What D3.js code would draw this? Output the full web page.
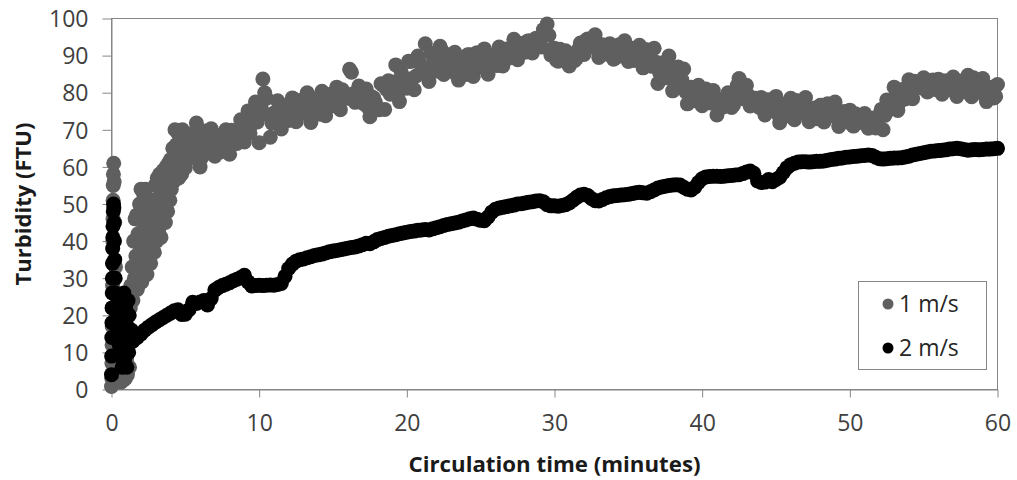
<!DOCTYPE html>
<html>
<head>
<meta charset="utf-8">
<script src="https://cdn.jsdelivr.net/npm/d3@7"></script>
<style>
  html, body { margin: 0; padding: 0; background: #fff; }
  svg { display: block; font-family: "Open Sans", "Liberation Sans", sans-serif; }
</style>
</head>
<body>
<svg id="chart" width="1017" height="480"></svg>
<script>
// Axis ticks
const axisMinutes = [0, 10, 20, 30, 40, 50, 60];
const axisFTU = [0, 10, 20, 30, 40, 50, 60, 70, 80, 90, 100];
const seriesNames = ["1 m/s", "2 m/s"];

// 1 m/s: first minutes of circulation (dense logging)
const slowStartMinutes = [0,0.02,0.03,0.04,0.05,0.06,0.07,0.08,0.09,0.1,0.11,0.12,0.13,
  0.15,0.18,0.22,0.27,0.33,0.4,0.48,0.56,0.64,0.72,0.8,0.88,0.95,
  1.02,1.08,1.13,1.18,1.22,1.27,1.31,1.35,1.4,1.45,
  1.5,1.55,1.6,1.65,1.7,1.75,1.8,1.85,1.9,1.95,2,2.05,2.1,2.15,2.2,2.25,2.3,2.35,2.4,2.45,
  2.5,2.55,2.6,2.65,2.7,2.75,2.8,2.85,2.9,2.95,3,3.05,3.1,3.15,3.2,3.25,3.3,3.35,3.4,3.45,
  3.5,3.55,3.6,3.65,3.7,3.75,3.8,3.85,3.9,3.95,4,4.05,4.1,4.15,4.2,4.25,4.3,4.35,4.4,4.45,
  4.5,4.55,4.6,4.65,4.7,4.75,4.8,4.85,4.9];
const slowStartFTU = [0.8,3,7,12,17,22,28,34,40,46,51,55,58,
  61,56,45,33,20,12,6,3,2,4,2.5,6,3,
  8,4,10,16,6,22,28,14,33,24,
  40,30,46,36,47,27,42,32,50,38,54,29,45,53,35,48,54,40,31,46,
  36,50,42,34,48,39,51,44,37,55,47,40,57,50,43,58,52,41,55,46,
  59,49,57,45,60,53,48,61,56,51,62,54,59,65,56,62,70,58,66,61,
  69,57,64,60,67,58,70,62,66];

// 2 m/s: first minutes of circulation
const fastStartMinutes = [0,0.01,0.02,0.03,0.04,0.05,0.06,0.07,0.08,0.09,0.1,0.12,0.14,0.16,0.18,0.2,
  0.22,0.25,0.28,0.31,0.34,0.37,0.4,
  0.44,0.48,0.52,0.56,0.6,0.64,0.68,0.72,0.76,0.8,0.84,0.88,0.92,0.96,1,1.04,1.08,1.12,1.16,1.2,
  1.25,1.3,1.35,1.4,1.45,1.5,
  1.75,2,2.25,2.5,2.75,3,3.25,3.5,3.75,4,4.25,4.5,4.75];
const fastStartFTU = [4,9,14,18,22,26,30,34,38,41,44,48,50,49,45,40,
  35,30,26,22,17,14,20,
  24,18,12,22,9,16,24,6,19,13,26,8,18,22,12,6,17,24,10,20,
  15,13,16,14,13,13.5,
  14,15,16,16.8,17.5,18.2,18.8,19.4,20,20.6,21.2,21.5,20.2];

// Regular logging from minute 5 to 60
const sampleMinutes = [
  5,5.25,5.5,5.75, 6,6.25,6.5,6.75, 7,7.25,7.5,7.75, 8,8.25,8.5,8.75, 9,9.25,9.5,9.75,
  10,10.25,10.5,10.75, 11,11.25,11.5,11.75, 12,12.25,12.5,12.75, 13,13.25,13.5,13.75, 14,14.25,14.5,14.75,
  15,15.25,15.5,15.75, 16,16.25,16.5,16.75, 17,17.25,17.5,17.75, 18,18.25,18.5,18.75, 19,19.25,19.5,19.75,
  20,20.25,20.5,20.75, 21,21.25,21.5,21.75, 22,22.25,22.5,22.75, 23,23.25,23.5,23.75, 24,24.25,24.5,24.75,
  25,25.25,25.5,25.75, 26,26.25,26.5,26.75, 27,27.25,27.5,27.75, 28,28.25,28.5,28.75, 29,29.25,29.5,29.75,
  30,30.25,30.5,30.75, 31,31.25,31.5,31.75, 32,32.25,32.5,32.75, 33,33.25,33.5,33.75, 34,34.25,34.5,34.75,
  35,35.25,35.5,35.75, 36,36.25,36.5,36.75, 37,37.25,37.5,37.75, 38,38.25,38.5,38.75, 39,39.25,39.5,39.75,
  40,40.25,40.5,40.75, 41,41.25,41.5,41.75, 42,42.25,42.5,42.75, 43,43.25,43.5,43.75, 44,44.25,44.5,44.75,
  45,45.25,45.5,45.75, 46,46.25,46.5,46.75, 47,47.25,47.5,47.75, 48,48.25,48.5,48.75, 49,49.25,49.5,49.75,
  50,50.25,50.5,50.75, 51,51.25,51.5,51.75, 52,52.25,52.5,52.75, 53,53.25,53.5,53.75, 54,54.25,54.5,54.75,
  55,55.25,55.5,55.75, 56,56.25,56.5,56.75, 57,57.25,57.5,57.75, 58,58.25,58.5,58.75, 59,59.25,59.5,59.75,
  60];

// Turbidity at 1 m/s (FTU)
const slowFTU = [
  59.8,68.9,65.3,71.8, 60.0,67.7,64.0,70.3, 62.9,68.4,66.1,70.0, 63.4,68.2,66.3,72.7, 66.7,75.1,71.5,77.5,
  66.5,83.7,78.5,68.0, 74.5,77.8,70.2,75.0, 72.5,78.6,72.2,77.9, 75.5,80.0,72.0,77.6, 74.9,80.4,73.8,79.5,
  77.4,81.5,75.4,80.0, 78.5,85.5,77.4,81.8, 78.2,81.0,73.5,78.6, 75.7,82.4,75.5,83.2, 81.4,87.5,77.6,84.2,
  81.2,88.4,80.8,89.9, 87.2,93.2,83.0,90.0, 86.7,92.5,84.9,90.2, 87.3,90.9,83.4,88.0, 84.9,90.2,84.4,90.8,
  88.0,91.8,85.0,89.6, 87.8,92.3,87.2,91.8, 90.1,94.4,88.9,92.4, 90.9,94.0,90.7,94.7, 93.0,97.0,98.5,90.2,
  92.0,88.5,90.2,91.3, 87.2,89.8,89.3,93.4, 90.3,94.5,93.1,95.6, 89.5,92.9,90.4,93.2, 89.0,92.0,90.7,94.0,
  88.4,92.0,88.9,92.8, 86.7,91.6,88.2,92.0, 82.5,88.0,84.0,89.9, 80.5,86.7,82.5,86.4, 77.0,81.5,78.0,82.0,
  76.5,81.0,78.0,80.6, 74.0,78.0,76.3,80.0, 76.0,80.2,83.8,78.4, 82.0,76.4,78.5,76.5, 78.7,74.0,78.1,75.7,
  79.0,71.9,76.1,73.8, 78.5,72.7,77.3,75.2, 78.7,72.2,75.6,73.0, 76.6,72.1,77.0,74.3, 77.5,70.9,74.3,72.4,
  75.3,71.0,73.8,72.5, 74.4,70.4,72.5,70.5, 74.0,70.0,78.0,76.5, 81.5,75.2,80.0,78.3, 83.5,78.4,82.5,81.6,
  84.0,80.2,83.0,80.9, 83.6,79.6,83.2,81.2, 84.2,79.0,82.6,80.5, 84.7,78.9,83.2,81.0, 83.8,77.6,80.8,78.6,
  82.2];

// Intermediate 1 m/s readings, logged between the regular samples
const fillMinutes = [
  5.125,5.375,5.625,5.875, 6.125,6.375,6.625,6.875, 7.125,7.375,7.625,7.875, 8.125,8.375,8.625,8.875,
  9.125,9.375,9.625,9.875, 10.125,10.375,10.625,10.875, 11.125,11.375,11.625,11.875, 12.125,12.375,12.625,12.875,
  13.125,13.375,13.625,13.875, 14.125,14.375,14.625,14.875, 15.125,15.375,15.625,15.875, 16.125,16.375,16.625,16.875,
  17.125,17.375,17.625,17.875, 18.125,18.375,18.625,18.875, 19.125,19.375,19.625,19.875, 20.125,20.375,20.625,20.875,
  21.125,21.375,21.625,21.875, 22.125,22.375,22.625,22.875, 23.125,23.375,23.625,23.875, 24.125,24.375,24.625,24.875,
  25.125,25.375,25.625,25.875, 26.125,26.375,26.625,26.875, 27.125,27.375,27.625,27.875, 28.125,28.375,28.625,28.875,
  29.125,29.375,29.625,29.875, 30.125,30.375,30.625,30.875, 31.125,31.375,31.625,31.875, 32.125,32.375,32.625,32.875,
  33.125,33.375,33.625,33.875, 34.125,34.375,34.625,34.875, 35.125,35.375,35.625,35.875, 36.125,36.375,36.625,36.875,
  37.125,37.375,37.625,37.875, 38.125,38.375,38.625,38.875, 39.125,39.375,39.625,39.875, 40.125,40.375,40.625,40.875,
  41.125,41.375,41.625,41.875, 42.125,42.375,42.625,42.875, 43.125,43.375,43.625,43.875, 44.125,44.375,44.625,44.875,
  45.125,45.375,45.625,45.875, 46.125,46.375,46.625,46.875, 47.125,47.375,47.625,47.875, 48.125,48.375,48.625,48.875,
  49.125,49.375,49.625,49.875, 50.125,50.375,50.625,50.875, 51.125,51.375,51.625,51.875, 52.125,52.375,52.625,52.875,
  53.125,53.375,53.625,53.875, 54.125,54.375,54.625,54.875, 55.125,55.375,55.625,55.875, 56.125,56.375,56.625,56.875,
  57.125,57.375,57.625,57.875, 58.125,58.375,58.625,58.875, 59.125,59.375,59.625,59.875];
const slowFillFTU = [
  62.5,62.5,68.5,65.8, 62.6,69.7,67.0,64.9, 66.7,64.0,67.8,65.3, 69.9,67.3,68.1,71.3,
  69.2,69.1,74.5,72.1, 76.0,80.0,74.0,71.8, 74.1,71.5,75.6,73.0, 77.3,74.1,74.3,76.2,
  74.4,74.4,78.4,76.5, 74.2,79.7,78.0,76.4, 78.5,76.3,80.8,78.6, 86.3,79.7,79.1,79.5,
  76.9,76.0,78.9,77.4, 75.4,82.0,80.9,79.6, 82.9,79.2,85.5,81.6, 88.5,83.8,84.5,88.0,
  85.7,85.7,90.6,88.4, 85.8,91.3,89.0,86.6, 88.1,84.8,88.6,85.4, 90.2,86.7,86.9,88.8,
  86.9,86.8,90.0,88.8, 87.3,91.8,90.6,89.3, 91.3,89.6,93.3,91.1, 93.8,91.8,92.0,93.4,
  92.3,96.0,95.5,91.8, 88.8,91.7,89.8,88.5, 89.8,88.7,91.7,90.7, 94.1,92.3,92.3,93.1,
  91.2,90.5,92.3,90.9, 89.4,92.9,91.8,90.4, 91.7,88.7,91.6,88.3, 91.6,87.7,87.1,88.2,
  85.3,84.2,87.8,84.8, 81.1,86.9,83.5,80.3, 81.4,77.8,80.9,77.8, 80.8,77.6,77.2,77.9,
  76.2,76.1,78.8,77.8, 76.7,81.9,80.3,78.5, 79.3,77.0,78.5,76.0, 78.3,75.6,75.3,76.3,
  74.3,73.9,76.9,75.3, 73.4,77.9,76.3,74.5, 75.8,73.0,75.9,73.2, 76.6,73.8,73.8,75.0,
  73.2,72.6,74.9,73.2, 71.5,74.3,73.1,71.9, 72.8,71.1,73.2,71.2, 75.5,73.9,75.3,78.1,
  77.4,77.5,80.9,80.0, 78.7,83.1,82.0,81.3, 82.6,81.1,83.4,80.9, 83.3,80.9,80.8,82.1,
  80.9,80.7,83.2,81.8, 79.7,84.0,82.1,80.1, 81.2,78.5,81.5,79.0];

// Turbidity at 2 m/s (FTU)
const fastFTU = [
  20.3,21.5,23.5,23.2, 23.6,24.0,22.8,24.5, 26.8,27.5,28.0,28.4, 28.8,29.3,29.7,30.2, 30.8,29.0,27.9,28.0,
  28.1,28.0,28.1,28.2, 28.1,28.3,28.6,30.5, 32.6,33.8,34.6,35.0, 35.2,35.5,35.8,36.1, 36.3,36.5,36.8,37.1,
  37.3,37.5,37.7,37.9, 38.1,38.3,38.4,38.7, 39.0,39.4,39.3,39.8, 40.4,40.7,41.0,41.3, 41.5,41.7,42.0,42.2,
  42.4,42.6,42.7,42.9, 43.0,43.1,43.0,43.3, 43.6,43.9,44.2,44.5, 44.7,44.9,45.1,45.4, 45.7,46.0,46.2,45.9,
  45.6,45.5,46.5,47.8, 48.6,48.9,49.1,49.3, 49.5,49.7,50.0,50.1, 50.3,50.5,50.6,50.8, 50.9,50.6,49.8,49.5,
  49.5,49.4,49.6,49.8, 50.3,51.0,51.8,52.4, 52.6,52.3,51.5,50.9, 50.8,51.2,51.7,52.0, 52.2,52.3,52.4,52.5,
  52.6,52.8,53.0,53.2, 53.0,52.9,53.3,53.8, 54.3,54.6,54.8,55.0, 55.1,55.2,55.1,54.5, 54.0,53.8,54.5,55.8,
  56.8,57.3,57.4,57.5, 57.5,57.4,57.5,57.6, 57.7,57.8,57.9,58.2, 58.6,58.9,58.3,56.2, 55.8,55.9,56.6,56.0,
  56.6,57.2,58.5,59.8, 60.6,61.0,61.3,61.4, 61.4,61.3,61.4,61.5, 61.5,61.6,61.8,62.0, 62.1,62.3,62.4,62.6,
  62.7,62.8,62.9,63.0, 63.1,63.2,63.1,62.6, 62.2,62.1,62.2,62.3, 62.4,62.4,62.5,62.7, 62.9,63.2,63.4,63.6,
  63.8,64.0,64.2,64.3, 64.4,64.5,64.6,64.8, 64.9,65.0,64.9,64.7, 64.5,64.6,64.7,64.6, 64.7,64.8,64.8,64.9,
  65.0];

const seriesColors = ["#5f5f5f", "#000000"];
const axisColor = "#868686";
const labelColor = "#404040";
const fontFamily = '"Open Sans", "Liberation Sans", sans-serif';

const svg = d3.select("#chart");
svg.append("rect").attr("width", 1017).attr("height", 480).attr("fill", "#fff");

const plotLeft = 111.5, plotRight = 997.5, plotTop = 18.5, plotBottom = 389.5;
const x = d3.scaleLinear().domain([0, 60]).range([plotLeft, plotRight]);
const y = d3.scaleLinear().domain([0, 100]).range([plotBottom, plotTop]);

// Plot area frame
svg.append("rect")
  .attr("x", plotLeft).attr("y", plotTop)
  .attr("width", plotRight - plotLeft).attr("height", plotBottom - plotTop)
  .attr("fill", "none").attr("stroke", axisColor).attr("stroke-width", 1);

// Y axis
const gy = svg.append("g")
  .attr("transform", `translate(${plotLeft},0)`)
  .call(d3.axisLeft(y).tickValues(axisFTU).tickSize(9).tickSizeOuter(0).tickPadding(14));
gy.attr("font-family", fontFamily).attr("font-size", 23);
gy.select(".domain").attr("stroke", axisColor);
gy.selectAll(".tick line").attr("stroke", axisColor);
gy.selectAll(".tick text").attr("fill", labelColor).attr("dy", "0.36em");

// X axis
const gx = svg.append("g")
  .attr("transform", `translate(0,${plotBottom})`)
  .call(d3.axisBottom(x).tickValues(axisMinutes).tickSize(8).tickSizeOuter(0));
gx.attr("font-family", fontFamily).attr("font-size", 23);
gx.select(".domain").attr("stroke", axisColor);
gx.selectAll(".tick line").attr("stroke", axisColor);
gx.selectAll(".tick text").attr("fill", labelColor).attr("y", 41.5).attr("dy", 0);

// Axis titles
svg.append("text")
  .attr("transform", `translate(31,${(plotTop + plotBottom) / 2}) rotate(-90)`)
  .attr("text-anchor", "middle")
  .attr("font-family", fontFamily).attr("font-weight", 700).attr("font-size", 21)
  .attr("fill", "#1a1a1a")
  .attr("textLength", 163).attr("lengthAdjust", "spacingAndGlyphs")
  .text("Turbidity (FTU)");

svg.append("text")
  .attr("x", (plotLeft + plotRight) / 2).attr("y", 472)
  .attr("text-anchor", "middle")
  .attr("font-family", fontFamily).attr("font-weight", 700).attr("font-size", 21)
  .attr("fill", "#1a1a1a")
  .attr("textLength", 292).attr("lengthAdjust", "spacingAndGlyphs")
  .text("Circulation time (minutes)");

// Data points: 1 m/s underneath, 2 m/s on top
const series = [
  d3.zip(slowStartMinutes, slowStartFTU)
    .concat(d3.zip(sampleMinutes, slowFTU))
    .concat(d3.zip(fillMinutes, slowFillFTU)),
  d3.zip(fastStartMinutes, fastStartFTU).concat(d3.zip(sampleMinutes, fastFTU))
];
series.forEach((pts, i) => {
  svg.append("g")
    .selectAll("circle")
    .data(pts)
    .join("circle")
    .attr("cx", d => x(d[0]))
    .attr("cy", d => y(d[1]))
    .attr("r", 7.5)
    .attr("fill", seriesColors[i]);
});

// Legend
const legend = svg.append("g");
legend.append("rect")
  .attr("x", 858.5).attr("y", 281.5).attr("width", 128).attr("height", 88)
  .attr("fill", "#fff").attr("stroke", axisColor);
seriesNames.forEach((name, i) => {
  const cy = 304 + i * 44;
  legend.append("circle").attr("cx", 888).attr("cy", cy).attr("r", 5.5).attr("fill", seriesColors[i]);
  legend.append("text")
    .attr("x", 899).attr("y", cy).attr("dy", "0.36em")
    .attr("font-family", fontFamily).attr("font-size", 23).attr("fill", "#262626")
    .text(name);
});
</script>
</body>
</html>
